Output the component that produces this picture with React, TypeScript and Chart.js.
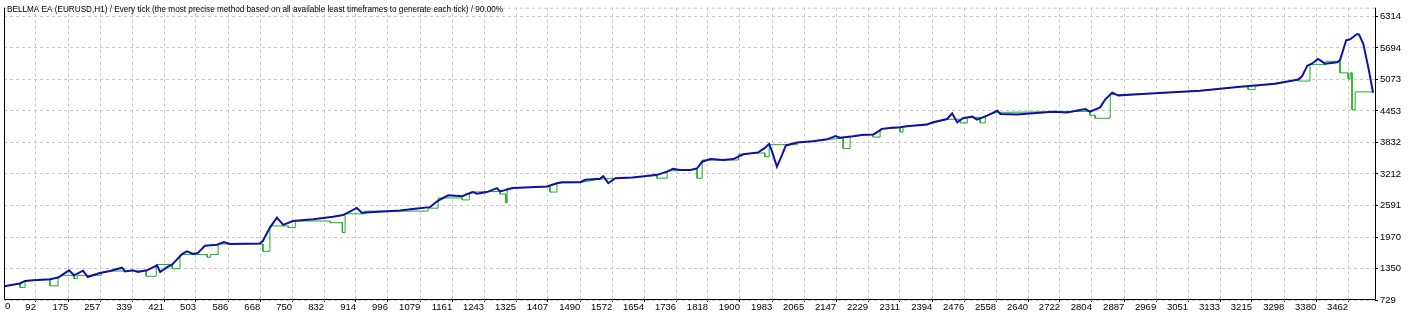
import React, { useEffect, useRef } from 'react';
import { Chart, registerables } from 'chart.js';

Chart.register(...registerables);

const TITLE =
  'BELLMA EA (EURUSD,H1) / Every tick (the most precise method based on all available least timeframes to generate each tick) / 90.00%';

const xTickLabels = [
  92, 175, 257, 339, 421, 503, 586, 668, 750, 832, 914, 996, 1079, 1161, 1243, 1325, 1407, 1490, 1572, 1654, 1736,
  1818, 1900, 1983, 2065, 2147, 2229, 2311, 2394, 2476, 2558, 2640, 2722, 2804, 2887, 2969, 3051, 3133, 3215, 3298,
  3380, 3462,
];
const yTickLabels = [729, 1350, 1970, 2591, 3212, 3832, 4453, 5073, 5694, 6314];

// Blue series (trade number, value)
const blueX = [
  10, 51, 64, 85, 128, 149, 177, 190, 213, 225,
  256, 282, 313, 321, 341, 354, 377, 403, 411, 429,
  442, 468, 480, 496, 508, 526, 557, 575, 590, 667,
  675, 693, 711, 727, 752, 804, 855, 881, 916, 929,
  1027, 1071, 1104, 1125, 1151, 1187, 1200, 1215, 1225, 1250,
  1276, 1284, 1317, 1405, 1430, 1443, 1490, 1503, 1541, 1549,
  1562, 1580, 1625, 1687, 1713, 1728, 1746, 1772, 1790, 1803,
  1824, 1857, 1883, 1909, 1947, 1964, 1975, 1982, 1995, 2008,
  2018, 2047, 2088, 2124, 2145, 2157, 2191, 2217, 2243, 2265,
  2290, 2311, 2329, 2381, 2396, 2432, 2445, 2458, 2473, 2497,
  2509, 2535, 2561, 2569, 2612, 2653, 2704, 2740, 2787, 2799,
  2825, 2838, 2856, 2872, 2954, 3082, 3185, 3275, 3334, 3344,
  3357, 3369, 3385, 3403, 3434, 3441, 3457, 3467, 3485, 3490,
  3501, 3514, 3526,
];
const blueY = [
  1001, 1054, 1104, 1118, 1138, 1171, 1313, 1215, 1307, 1182,
  1260, 1299, 1365, 1293, 1313, 1280, 1313, 1410, 1280, 1377,
  1429, 1637, 1688, 1637, 1657, 1799, 1818, 1871, 1832, 1844,
  1896, 2155, 2350, 2208, 2285, 2318, 2369, 2402, 2544, 2447,
  2493, 2532, 2558, 2688, 2791, 2772, 2816, 2855, 2824, 2855,
  2933, 2869, 2933, 2966, 3030, 3050, 3050, 3097, 3116, 3167,
  3030, 3128, 3141, 3194, 3258, 3316, 3291, 3291, 3322, 3453,
  3505, 3486, 3505, 3599, 3637, 3725, 3803, 3667, 3355, 3583,
  3774, 3832, 3855, 3894, 3958, 3925, 3953, 3984, 3991, 4100,
  4120, 4133, 4153, 4186, 4231, 4295, 4406, 4231, 4309, 4342,
  4283, 4361, 4458, 4392, 4381, 4406, 4439, 4425, 4489, 4439,
  4523, 4678, 4814, 4756, 4795, 4853, 4931, 4989, 5073, 5139,
  5345, 5384, 5476, 5384, 5412, 5451, 5845, 5865, 5968, 5956,
  5777, 5301, 4814,
];

// Green series (step-like)
const greenX = [
  10, 51, 51, 64, 64, 85, 128, 128, 149, 149,
  162, 190, 190, 198, 198, 261, 261, 282, 375, 375,
  401, 401, 442, 442, 462, 462, 532, 532, 540, 540,
  560, 560, 675, 675, 693, 693, 740, 740, 758, 758,
  848, 848, 879, 879, 886, 886, 937, 937, 1099, 1099,
  1125, 1125, 1187, 1187, 1205, 1205, 1207, 1284, 1284, 1299,
  1299, 1302, 1302, 1412, 1412, 1430, 1430, 1490, 1541, 1580,
  1687, 1687, 1713, 1713, 1790, 1790, 1803, 1803, 1896, 1896,
  1964, 1964, 1975, 1975, 2047, 2047, 2165, 2165, 2183, 2183,
  2241, 2241, 2260, 2260, 2311, 2311, 2319, 2319, 2396, 2432,
  2466, 2466, 2484, 2484, 2517, 2517, 2530, 2530, 2561, 2799,
  2799, 2812, 2812, 2851, 2851, 2872, 2954, 3082, 3185, 3205,
  3205, 3223, 3223, 3334, 3334, 3364, 3364, 3405, 3405, 3441,
  3441, 3462, 3462, 3467, 3467, 3472, 3472, 3480, 3480, 3526,
];
const greenY = [
  1001, 1054, 976, 976, 1104, 1118, 1132, 1007, 1007, 1171,
  1215, 1215, 1151, 1151, 1215, 1215, 1260, 1299, 1303, 1196,
  1196, 1429, 1429, 1346, 1346, 1624, 1624, 1571, 1571, 1624,
  1624, 1832, 1832, 1688, 1688, 2188, 2188, 2155, 2155, 2285,
  2285, 2252, 2252, 2058, 2058, 2427, 2427, 2480, 2480, 2538,
  2538, 2739, 2739, 2700, 2700, 2816, 2855, 2869, 2816, 2816,
  2641, 2641, 2927, 2966, 2855, 2855, 3034, 3044, 3112, 3122,
  3180, 3128, 3128, 3268, 3297, 3128, 3128, 3486, 3486, 3599,
  3628, 3550, 3550, 3789, 3789, 3832, 3919, 3711, 3711, 3949,
  3988, 3939, 3939, 4095, 4124, 4036, 4036, 4143, 4211, 4289,
  4289, 4217, 4217, 4318, 4328, 4217, 4217, 4357, 4425, 4445,
  4367, 4367, 4309, 4309, 4775, 4775, 4795, 4853, 4931, 4931,
  4873, 4873, 4941, 5067, 5042, 5042, 5365, 5365, 5431, 5431,
  5203, 5203, 5087, 5087, 5203, 5203, 4478, 4478, 4828, 4828,
];

const FONT = 'Liberation Sans';

const framePlugin = {
  id: 'mt4frame',
  afterDraw(chart: any) {
    const { ctx, chartArea } = chart;
    const { left, right, top, bottom } = chartArea;
    ctx.save();
    // top dashed line
    ctx.strokeStyle = '#c8c8c8';
    ctx.lineWidth = 1;
    ctx.setLineDash([3, 3]);
    ctx.beginPath();
    ctx.moveTo(left, top + 0.5);
    ctx.lineTo(right, top + 0.5);
    ctx.stroke();
    ctx.setLineDash([]);
    ctx.strokeStyle = '#000';
    ctx.beginPath();
    ctx.moveTo(left + 0.5, top);
    ctx.lineTo(left + 0.5, bottom - 0.5);
    ctx.lineTo(right + 0.5, bottom - 0.5);
    ctx.lineTo(right + 0.5, top);
    ctx.stroke();
    // title
    ctx.fillStyle = '#000';
    ctx.font = `9.5px "${FONT}"`;
    ctx.textBaseline = 'alphabetic';
    ctx.textAlign = 'left';
    ctx.fillText(TITLE, 7, 11.5, 496);
    // first x label
    ctx.textBaseline = 'top';
    ctx.fillText('0', 5, bottom + 2);
    ctx.restore();
  },
};

export default function App() {
  const ref = useRef<HTMLCanvasElement | null>(null);
  useEffect(() => {
    document.body.style.margin = '0';
    const canvas = ref.current;
    if (!canvas) return;
    const chart = new Chart(canvas, {
      type: 'line',
      data: {
        datasets: [
          {
            label: 'blue',
            data: blueX.map((x, i) => ({ x, y: blueY[i] })),
            borderColor: '#1010a8',
            borderWidth: 2,
            pointRadius: 0,
            tension: 0,
            order: 0,
          },
          {
            label: 'green',
            data: greenX.map((x, i) => ({ x, y: greenY[i] })),
            borderColor: '#1cb01c',
            borderWidth: 1,
            pointRadius: 0,
            tension: 0,
            order: 1,
          },
        ],
      },
      options: {
        responsive: false,
        animation: false,
        events: [],
        layout: { padding: { left: 4, top: 4, right: 0, bottom: 0 } },
        plugins: {
          legend: { display: false },
          tooltip: { enabled: false },
          title: { display: false },
        },
        scales: {
          x: {
            type: 'linear',
            min: 10,
            max: 3531,
            afterFit: (s: any) => {
              s.height = 17;
            },
            afterBuildTicks: (s: any) => {
              s.ticks = xTickLabels.map((v) => ({ value: v }));
            },
            grid: { color: '#c8c8c8', lineWidth: 1, tickLength: 2, tickColor: '#000' },
            border: { display: false, dash: [3, 3] },
            ticks: {
              align: 'end',
              padding: 0,
              maxRotation: 0,
              autoSkip: false,
              color: '#000',
              font: { family: FONT, size: 9.5 },
              callback: (v: any) => String(v),
            },
          },
          y: {
            type: 'linear',
            position: 'right',
            min: 729,
            max: 6487,
            afterFit: (s: any) => {
              s.width = 45;
            },
            afterBuildTicks: (s: any) => {
              s.ticks = yTickLabels.map((v) => ({ value: v }));
            },
            grid: { color: '#c8c8c8', lineWidth: 1, tickLength: 3, tickColor: '#000' },
            border: { display: false, dash: [3, 3] },
            ticks: {
              padding: 2,
              autoSkip: false,
              color: '#000',
              font: { family: FONT, size: 9.5 },
              callback: (v: any) => String(v),
            },
          },
        },
      },
      plugins: [framePlugin],
    } as any);
    return () => chart.destroy();
  }, []);
  return <canvas ref={ref} width={1420} height={317} style={{ display: 'block' }} />;
}
